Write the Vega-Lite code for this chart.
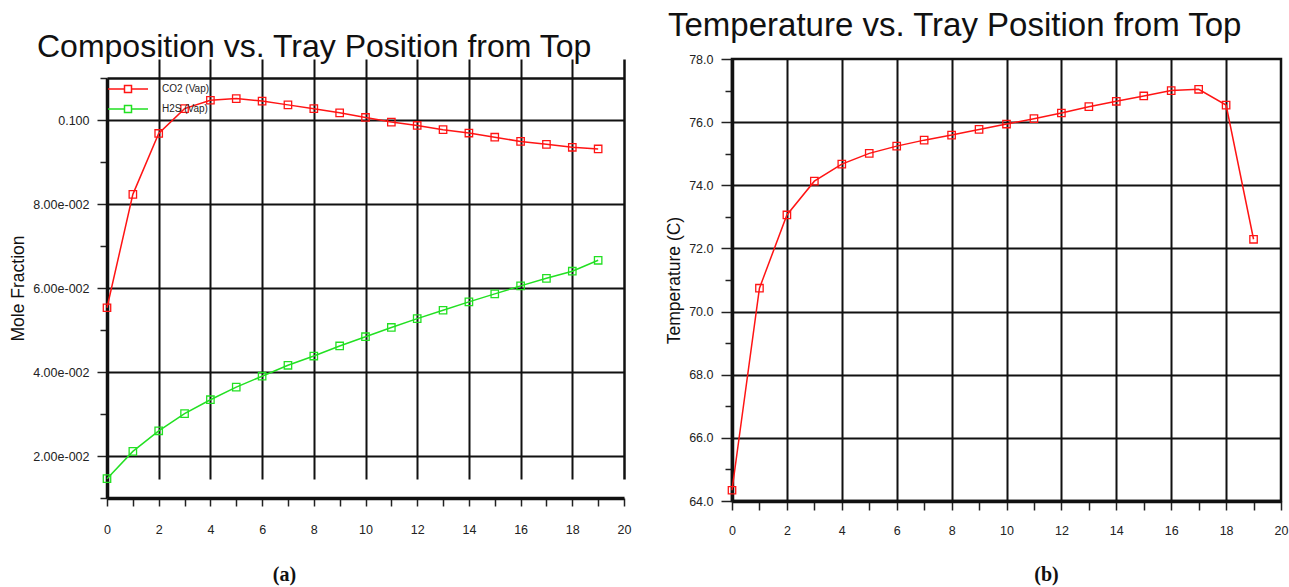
{
  "$schema": "https://vega.github.io/schema/vega-lite/v6.json",
  "background": "white",
  "padding": {"left": 9, "top": 8, "right": 2, "bottom": 0},
  "spacing": 33,
  "align": "none",
  "config": {
    "view": {"stroke": "#111", "strokeWidth": 2.5},
    "font": "Liberation Sans",
    "axis": {
      "labelFont": "Liberation Sans", "labelFontSize": 12.5, "labelColor": "#222",
      "domainColor": "#111", "domainWidth": 3.5, "tickColor": "#222", "tickWidth": 1.5,
      "gridColor": "#111", "gridWidth": 2, "titleFont": "Liberation Sans", "titleFontWeight": "normal",
      "titleColor": "#111", "labelOverlap": false, "labelFlush": false
    },
    "title": {"font": "Liberation Sans", "fontSize": 32, "fontWeight": "normal", "color": "#111", "anchor": "start", "frame": "group", "baseline": "alphabetic", "offset": 10}
  },
  "hconcat": [
    {
      "width": 517,
      "height": 439,
      "view": {"stroke": null},
      "title": {"text": "Composition vs. Tray Position from Top", "dx": -70, "dy": 15},
      "data": {"values": [
        {"tray": 0, "component": "CO2 (Vap)", "fraction": 0.0553},
        {"tray": 1, "component": "CO2 (Vap)", "fraction": 0.0823},
        {"tray": 2, "component": "CO2 (Vap)", "fraction": 0.0968},
        {"tray": 3, "component": "CO2 (Vap)", "fraction": 0.1027},
        {"tray": 4, "component": "CO2 (Vap)", "fraction": 0.1047},
        {"tray": 5, "component": "CO2 (Vap)", "fraction": 0.1051},
        {"tray": 6, "component": "CO2 (Vap)", "fraction": 0.1045},
        {"tray": 7, "component": "CO2 (Vap)", "fraction": 0.1036},
        {"tray": 8, "component": "CO2 (Vap)", "fraction": 0.1027},
        {"tray": 9, "component": "CO2 (Vap)", "fraction": 0.1017},
        {"tray": 10, "component": "CO2 (Vap)", "fraction": 0.1006},
        {"tray": 11, "component": "CO2 (Vap)", "fraction": 0.0995},
        {"tray": 12, "component": "CO2 (Vap)", "fraction": 0.0987},
        {"tray": 13, "component": "CO2 (Vap)", "fraction": 0.0977},
        {"tray": 14, "component": "CO2 (Vap)", "fraction": 0.0969},
        {"tray": 15, "component": "CO2 (Vap)", "fraction": 0.0959},
        {"tray": 16, "component": "CO2 (Vap)", "fraction": 0.0949},
        {"tray": 17, "component": "CO2 (Vap)", "fraction": 0.0942},
        {"tray": 18, "component": "CO2 (Vap)", "fraction": 0.0935},
        {"tray": 19, "component": "CO2 (Vap)", "fraction": 0.0931},
        {"tray": 0, "component": "H2S (Vap)", "fraction": 0.0146},
        {"tray": 1, "component": "H2S (Vap)", "fraction": 0.0211},
        {"tray": 2, "component": "H2S (Vap)", "fraction": 0.0260},
        {"tray": 3, "component": "H2S (Vap)", "fraction": 0.0301},
        {"tray": 4, "component": "H2S (Vap)", "fraction": 0.0334},
        {"tray": 5, "component": "H2S (Vap)", "fraction": 0.0364},
        {"tray": 6, "component": "H2S (Vap)", "fraction": 0.0390},
        {"tray": 7, "component": "H2S (Vap)", "fraction": 0.0416},
        {"tray": 8, "component": "H2S (Vap)", "fraction": 0.0438},
        {"tray": 9, "component": "H2S (Vap)", "fraction": 0.0462},
        {"tray": 10, "component": "H2S (Vap)", "fraction": 0.0484},
        {"tray": 11, "component": "H2S (Vap)", "fraction": 0.0506},
        {"tray": 12, "component": "H2S (Vap)", "fraction": 0.0527},
        {"tray": 13, "component": "H2S (Vap)", "fraction": 0.0547},
        {"tray": 14, "component": "H2S (Vap)", "fraction": 0.0567},
        {"tray": 15, "component": "H2S (Vap)", "fraction": 0.0586},
        {"tray": 16, "component": "H2S (Vap)", "fraction": 0.0605},
        {"tray": 17, "component": "H2S (Vap)", "fraction": 0.0623},
        {"tray": 18, "component": "H2S (Vap)", "fraction": 0.0640},
        {"tray": 19, "component": "H2S (Vap)", "fraction": 0.0666}
      ]},
      "encoding": {
        "x": {
          "field": "tray", "type": "quantitative",
          "scale": {"domain": [0, 20], "nice": false, "zero": false},
          "axis": {
            "values": [0,1,2,3,4,5,6,7,8,9,10,11,12,13,14,15,16,17,18,19,20],
            "labelExpr": "datum.value % 2 == 0 ? datum.label : ''",
            "grid": true,
            "gridOpacity": {"condition": {"test": "datum.value % 2 == 0 && datum.value > 0", "value": 1}, "value": 0},
            "gridWidth": {"condition": {"test": "datum.value >= 20", "value": 2.5}, "value": 2},
            "tickSize": 8, "labelPadding": 17,
            "title": "(a)", "titleFont": "Liberation Serif", "titleFontWeight": "bold", "titleFontSize": 20,
            "titleX": 177, "titleY": 76, "titleBaseline": "middle", "titleAlign": "center"
          }
        },
        "y": {
          "field": "fraction", "type": "quantitative",
          "scale": {"domain": [0.01, 0.11], "range": [439, 19], "nice": false, "zero": false},
          "axis": {
            "values": [0.01,0.02,0.03,0.04,0.05,0.06,0.07,0.08,0.09,0.1,0.11],
            "labelExpr": "abs(datum.value-0.1)<0.001 ? '0.100' : abs(datum.value-0.08)<0.001 ? '8.00e-002' : abs(datum.value-0.06)<0.001 ? '6.00e-002' : abs(datum.value-0.04)<0.001 ? '4.00e-002' : abs(datum.value-0.02)<0.001 ? '2.00e-002' : ''",
            "grid": true,
            "gridOpacity": {"condition": {"test": "abs(datum.value*50 - round(datum.value*50)) < 0.001 || datum.value > 0.105", "value": 1}, "value": 0},
            "gridWidth": {"condition": {"test": "datum.value > 0.105", "value": 2.5}, "value": 2},
            "tickSize": {"condition": {"test": "abs(datum.value*50 - round(datum.value*50)) < 0.001", "value": 10}, "value": 7},
            "labelPadding": 8,
            "title": "Mole Fraction", "titleFontSize": 17.5, "titlePadding": 5
          }
        },
        "color": {
          "field": "component", "type": "nominal",
          "scale": {"domain": ["CO2 (Vap)", "H2S (Vap)"], "range": ["#ff1414", "#22e022"]},
          "legend": {
            "title": null, "orient": "none", "legendX": 4, "legendY": 24, "padding": 0,
            "symbolType": "M-4,0H-0.7M0.7,0H4M-0.7,-0.7H0.7V0.7H-0.7Z",
            "symbolSize": 100, "symbolStrokeWidth": 1.5, "symbolFillColor": "transparent",
            "symbolOffset": 11, "labelOffset": 28, "labelFontSize": 10, "labelFont": "Liberation Sans",
            "labelColor": "#222", "rowPadding": 6
          }
        }
      },
      "layer": [
        {
          "mark": {"type": "line", "strokeWidth": 1.5},
          "encoding": {}
        },
        {
          "mark": {"type": "point", "shape": "square", "filled": false, "size": 55, "strokeWidth": 1.3, "opacity": 1},
          "encoding": {}
        }
      ]
    },
    {
      "width": 549,
      "height": 442,
      "title": {"text": "Temperature vs. Tray Position from Top", "dx": -64, "fontSize": 33},
      "data": {"values": [
        {"tray": 0, "temperature": 64.34},
        {"tray": 1, "temperature": 70.74},
        {"tray": 2, "temperature": 73.06},
        {"tray": 3, "temperature": 74.13},
        {"tray": 4, "temperature": 74.67},
        {"tray": 5, "temperature": 75.01},
        {"tray": 6, "temperature": 75.24},
        {"tray": 7, "temperature": 75.43},
        {"tray": 8, "temperature": 75.59},
        {"tray": 9, "temperature": 75.77},
        {"tray": 10, "temperature": 75.94},
        {"tray": 11, "temperature": 76.11},
        {"tray": 12, "temperature": 76.29},
        {"tray": 13, "temperature": 76.49},
        {"tray": 14, "temperature": 76.66},
        {"tray": 15, "temperature": 76.83},
        {"tray": 16, "temperature": 77.0},
        {"tray": 17, "temperature": 77.04},
        {"tray": 18, "temperature": 76.54},
        {"tray": 19, "temperature": 72.29}
      ]},
      "encoding": {
        "x": {
          "field": "tray", "type": "quantitative",
          "scale": {"domain": [0, 20], "nice": false, "zero": false},
          "axis": {
            "values": [0,1,2,3,4,5,6,7,8,9,10,11,12,13,14,15,16,17,18,19,20],
            "labelExpr": "datum.value % 2 == 0 ? datum.label : ''",
            "grid": true,
            "gridOpacity": {"condition": {"test": "datum.value % 2 == 0 && datum.value > 0 && datum.value < 20", "value": 1}, "value": 0},
            "tickSize": 9, "labelPadding": 14,
            "title": "(b)", "titleFont": "Liberation Serif", "titleFontWeight": "bold", "titleFontSize": 20,
            "titleX": 314, "titleY": 73, "titleBaseline": "middle", "titleAlign": "center"
          }
        },
        "y": {
          "field": "temperature", "type": "quantitative",
          "scale": {"domain": [64, 78], "nice": false, "zero": false},
          "axis": {
            "values": [64,65,66,67,68,69,70,71,72,73,74,75,76,77,78],
            "labelExpr": "datum.value % 2 == 0 ? format(datum.value, '.1f') : ''",
            "grid": true,
            "gridOpacity": {"condition": {"test": "datum.value % 2 == 0 && datum.value > 64 && datum.value < 78", "value": 1}, "value": 0},
            "tickSize": {"condition": {"test": "datum.value % 2 == 0", "value": 11}, "value": 7},
            "labelPadding": 8,
            "title": "Temperature (C)", "titleFontSize": 17.5, "titlePadding": 5
          }
        }
      },
      "layer": [
        {
          "mark": {"type": "line", "strokeWidth": 1.5, "color": "#ff1414"},
          "encoding": {}
        },
        {
          "mark": {"type": "point", "shape": "square", "filled": false, "size": 55, "strokeWidth": 1.3, "opacity": 1, "color": "#ff1414"},
          "encoding": {}
        }
      ]
    }
  ]
}
